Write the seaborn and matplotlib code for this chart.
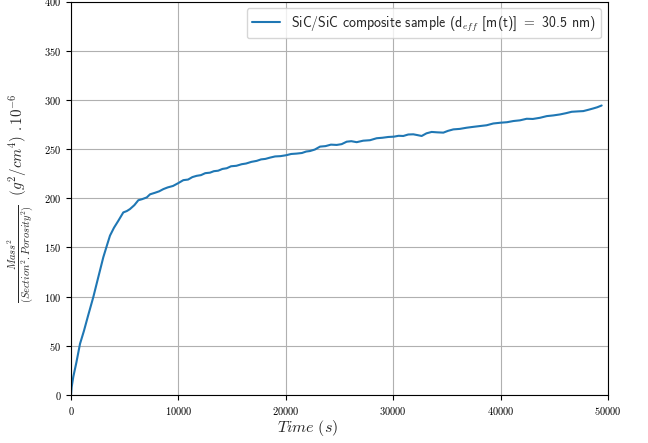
import numpy as np
import pandas as pd
import matplotlib
matplotlib.use("Agg")
import matplotlib.pyplot as plt
import seaborn as sns

# time (s) and mass^2/(section^2.porosity^2) values
time_s = [
    0, 60, 214, 500, 838, 1200, 1600, 2076, 2500, 3007, 3400, 3630,
    4000, 4400, 4870, 5200, 5490, 5900, 6270, 6600, 7050, 7360, 7800,
    8200, 8600, 9000, 9500, 9990, 10460, 10900, 11300, 11700, 12100,
    12500, 12940, 13300, 13700, 14100, 14500, 14900, 15400, 15890,
    16300, 16800, 17290, 17700, 18100, 18530, 19000, 19500, 20020,
    20500, 21010, 21500, 21900, 22250, 22700, 23190, 23700, 24200,
    24740, 25200, 25670, 26100, 26600, 27200, 27840, 28150, 28460,
    29000, 29550, 30070, 30500, 30940, 31400, 31870, 32250, 32650,
    33100, 33580, 34100, 34670, 35100, 35600, 36200, 36840, 37400,
    38080, 38700, 39320, 40010, 40600, 41190, 41800, 42430, 43000,
    43670, 44300, 44910, 45530, 46100, 46620, 47200, 47700, 48200,
    48630, 49000, 49410,
]
mass_ratio = [
    0, 8, 18.5, 33, 52, 65, 81, 99.5, 118, 140, 154, 162,
    170, 177, 185.6, 187, 189, 193, 198, 199, 200.8, 204, 205.5,
    207, 209.3, 211, 212.5, 215.4, 218.4, 219, 221.5, 222.8, 223.5,
    225.5, 226, 227.5, 228, 229.8, 230.5, 232.5, 233, 234.6,
    235.3, 237, 238, 239.5, 240, 241.3, 242.5, 242.8, 243.7,
    245, 245.4, 246, 247.5, 248, 249.5, 252.5, 253, 254.5,
    254.2, 255, 257.5, 258, 257, 258.5, 259, 260, 261,
    261.5, 262.3, 262.6, 263.5, 263.3, 264.8, 265, 264.2, 263.3,
    266, 267.4, 267, 266.7, 268.5, 270, 270.5, 271.7, 272.5,
    273.4, 274.2, 276, 276.8, 277.3, 278.5, 279.2, 280.8, 280.6,
    281.8, 283.5, 284.2, 285.2, 286.5, 287.9, 288.3, 288.6, 290,
    291.3, 292.5, 294.3,
]

legend_label = r"SiC/SiC composite sample (d$_{eff}$ [m(t)] $=$ 30.5 nm)"
x_label = r"$Time\ (s)$"
y_label = r"$\frac{Mass^2}{(Section^2.Porosity^2)}\ \ (g^2/cm^4)\ .10^{-6}$"

sns.set_style("ticks")
plt.rcParams["font.family"] = "serif"
plt.rcParams["font.serif"] = ["cmr10", "DejaVu Serif"]
plt.rcParams["mathtext.fontset"] = "cm"
plt.rcParams["axes.formatter.use_mathtext"] = True

df = pd.DataFrame({"time": time_s, "mass": mass_ratio})

fig = plt.figure(figsize=(6.48, 4.43), dpi=100)
ax = fig.add_axes([71 / 648, 48 / 443, 537 / 648, 393.5 / 443])

sns.lineplot(data=df, x="time", y="mass", ax=ax, color="#1f77b4",
             linewidth=1.5, label=legend_label)

ax.set_xlim(0, 50000)
ax.set_ylim(0, 400)
ax.set_xticks(np.arange(0, 50001, 10000))
ax.set_yticks(np.arange(0, 401, 50))
ax.grid(True, color="#b0b0b0", linewidth=0.8)
for s in ax.spines.values():
    s.set_color("black")
    s.set_linewidth(0.8)
ax.tick_params(axis="both", labelsize=7.5, colors="black", length=3.5, width=0.8)

ax.set_xlabel(x_label, fontsize=11.5)
ax.xaxis.set_label_coords(0.441, -0.058)
ax.set_ylabel(y_label, fontsize=10.8, labelpad=6)

leg = ax.legend(loc="upper right", frameon=True,
                prop={"family": "cmss10", "size": 10})
leg.get_frame().set_edgecolor("#cccccc")

fig.savefig("out.png", dpi=100)
